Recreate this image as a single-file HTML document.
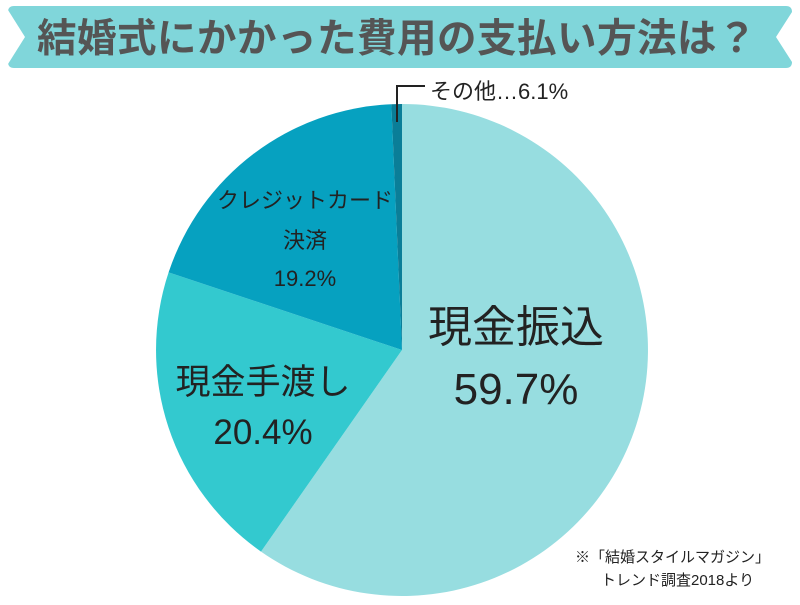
<!DOCTYPE html><html><head><meta charset="utf-8"><style>
html,body{margin:0;padding:0;background:#fff;}
svg text{font-family:"Liberation Sans","Noto Sans CJK JP",sans-serif;}
</style></head><body>
<svg width="800" height="600" viewBox="0 0 800 600" xmlns="http://www.w3.org/2000/svg">
<path d="M14,6 H786 Q792,6 792,12 L776,37 L792,62 Q792,68 786,68 H14 Q8,68 8,62 V12 Q8,6 14,6 Z" fill="#80d6da"/>
<path d="M8,10 L25,37 L8,64 Z" fill="#fff"/>
<text x="397" y="52" text-anchor="middle" font-size="39.5" font-weight="bold" fill="#555" letter-spacing="0.5">結婚式にかかった費用の支払い方法は？</text>
<g transform="translate(402,350)">
<path d="M0,0 L0,-246 A246,246 0 1 1 -141,201.6 Z" fill="#97dde0"/>
<path d="M0,0 L-141,201.6 A246,246 0 0 1 -233.4,-77.6 Z" fill="#33c9cf"/>
<path d="M0,0 L-233.4,-77.6 A246,246 0 0 1 -10.7,-245.8 Z" fill="#06a1c0"/>
<path d="M0,0 L-10.7,-245.8 A246,246 0 0 1 0,-246 Z" fill="#0a7e98"/>
</g>
<polyline points="397,122 397,86 425,86" fill="none" stroke="#222" stroke-width="2"/>
<text x="430" y="99" font-size="22" fill="#222">その他…6.1%</text>
<text x="516" y="342" text-anchor="middle" font-size="44" fill="#222">現金振込</text>
<text x="516" y="404" text-anchor="middle" font-size="44" fill="#222">59.7%</text>
<text x="263" y="394" text-anchor="middle" font-size="35" fill="#222">現金手渡し</text>
<text x="263" y="444" text-anchor="middle" font-size="35" fill="#222">20.4%</text>
<text x="305" y="208" text-anchor="middle" font-size="22" fill="#222">クレジットカード</text>
<text x="305" y="248" text-anchor="middle" font-size="22" fill="#222">決済</text>
<text x="305" y="286" text-anchor="middle" font-size="22" fill="#222">19.2%</text>
<text x="575" y="562" font-size="15" fill="#222">※「結婚スタイルマガジン」</text>
<text x="601" y="585" font-size="15" fill="#222">トレンド調査2018より</text>
</svg>
</body></html>
